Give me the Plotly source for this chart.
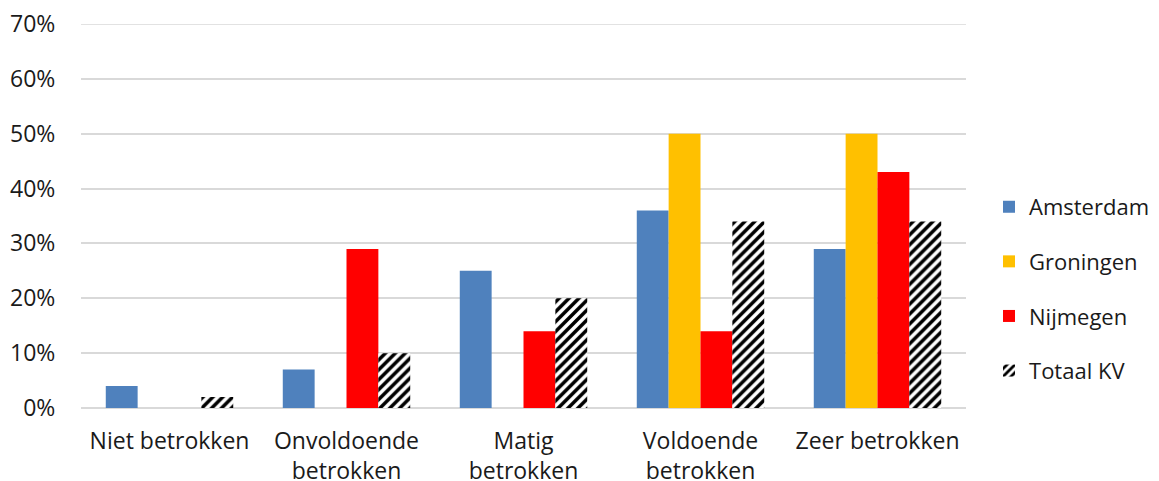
import plotly.graph_objects as go

categories = ["Niet betrokken", "Onvoldoende<br>betrokken", "Matig<br>betrokken",
              "Voldoende<br>betrokken", "Zeer betrokken"]
amsterdam = [4, 7, 25, 36, 29]
groningen = [0, 0, 0, 50, 50]
nijmegen = [0, 29, 14, 14, 43]
totaal_kv = [2, 10, 20, 34, 34]
y_ticks = [0, 10, 20, 30, 40, 50, 60, 70]
y_tick_labels = [f"{v}%" for v in y_ticks]

font_family = "Open Sans, sans-serif"
fs = 23
fig = go.Figure()
series = [
    ("Amsterdam", amsterdam, "#4F81BD", None),
    ("Groningen", groningen, "#FFC000", None),
    ("Nijmegen", nijmegen, "#FF0000", None),
    ("Totaal KV", totaal_kv, "white", dict(shape="/", fgcolor="black", bgcolor="white",
                                           size=7, solidity=0.5, fgopacity=1)),
]
for i, (name, vals, color, pattern) in enumerate(series):
    marker = dict(color=color, line=dict(width=0))
    if pattern:
        marker["pattern"] = pattern
    fig.add_trace(go.Bar(name=name, x=categories, y=vals, marker=marker, legendgroup=f"g{i}"))

# top gridline (plotly drops the gridline that sits on the plot edge)
fig.add_hline(y=y_ticks[-1], line=dict(color="#D9D9D9", width=1.5), layer="below")

fig.update_layout(
    width=1159, height=481,
    barmode="group", bargap=0.28, bargroupgap=0,
    plot_bgcolor="white", paper_bgcolor="white",
    margin=dict(l=73, r=201, t=16, b=81, autoexpand=False),
    font=dict(family=font_family, size=fs, color="#1a1a1a"),
    legend=dict(x=1.026, y=0.31, xanchor="left", yanchor="middle",
                font=dict(size=22), traceorder="grouped", tracegroupgap=23),
    xaxis=dict(automargin=False, showline=False, ticks="outside", ticklen=12,
               tickcolor="rgba(0,0,0,0)", tickfont=dict(size=fs), ticklabeloverflow="allow"),
    yaxis=dict(range=[0, 70], tickmode="array", tickvals=y_ticks, ticktext=y_tick_labels,
               showgrid=True, gridcolor="#D9D9D9", gridwidth=1.5, zeroline=True,
               zerolinecolor="#D9D9D9", zerolinewidth=1.5, automargin=False,
               ticks="outside", ticklen=20, tickcolor="rgba(0,0,0,0)", tickfont=dict(size=fs),
               ticklabeloverflow="allow"),
)

fig.write_html("out.html")
